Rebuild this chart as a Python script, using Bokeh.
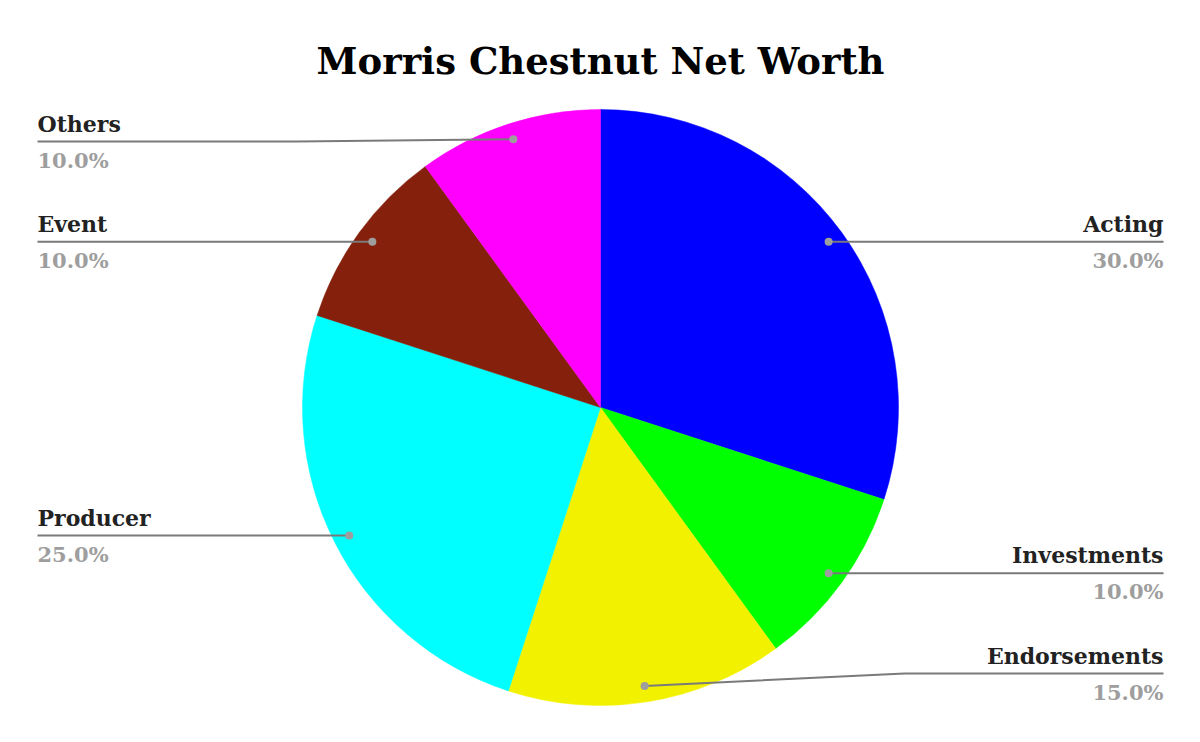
import math
from bokeh.plotting import figure
from bokeh.models import ColumnDataSource, Range1d
from bokeh.core.properties import value
from bokeh.embed import file_html
from bokeh.resources import INLINE

# ---- data ----
title_text = "Morris Chestnut Net Worth"
categories = ["Acting", "Investments", "Endorsements", "Producer", "Event", "Others"]
shares = [30, 10, 15, 25, 10, 10]
colors = ["#0000ff", "#00ff00", "#f2f200", "#00ffff", "#85200c", "#ff00ff"]

# ---- layout ----
W, H = 1184, 726
FONT = "DejaVu Serif"


def px(x):
    return x


def py(y):
    return H - y


cx, cy = px(600), py(407)
R = 298
R_DOT = 282
LEFT_X, RIGHT_X = px(37), px(1163)
KINK = 304
TOP_LIMIT, BOTTOM_LIMIT = py(141), py(673)

total = float(sum(shares))
starts, ends = [], []
dot_x, dot_y = [], []
line_xs, line_ys = [], []
lab_x, lab_y, lab_align, lab_text = [], [], [], []
pct_x, pct_y, pct_text = [], [], []

cum = 0.0
for cat, v in zip(categories, shares):
    f0 = cum / total
    cum += v
    f1 = cum / total
    starts.append(math.pi / 2 - 2 * math.pi * f0)
    ends.append(math.pi / 2 - 2 * math.pi * f1)
    mid = 2 * math.pi * (f0 + f1) / 2  # clockwise from top
    dx = math.sin(mid) * R_DOT
    dy = math.cos(mid) * R_DOT
    dxp, dyp = cx + dx, cy + dy
    dot_x.append(dxp)
    dot_y.append(dyp)
    right = math.sin(mid) >= 0
    ly = min(max(dyp, BOTTOM_LIMIT), TOP_LIMIT)
    if right:
        kx, ex, align = cx + KINK, RIGHT_X, "right"
    else:
        kx, ex, align = cx - KINK, LEFT_X, "left"
    line_xs.append([dxp, kx, ex])
    line_ys.append([dyp, ly, ly])
    lab_x.append(ex)
    lab_y.append(ly + 18)
    lab_align.append(align)
    lab_text.append(cat)
    pct_x.append(ex)
    pct_y.append(ly - 6)
    pct_text.append(f"{100 * v / total:.1f}%")

p = figure(width=W, height=H, output_backend="svg", toolbar_location=None,
           x_range=Range1d(0, W), y_range=Range1d(0, H),
           x_axis_location=None, y_axis_location=None, min_border=0)
p.grid.visible = False
p.outline_line_color = None
p.background_fill_color = "white"
p.border_fill_color = "white"

wsrc = ColumnDataSource(dict(start=starts, end=ends, color=colors))
p.wedge(x=cx, y=cy, radius=R, radius_units="screen", start_angle="start",
        end_angle="end", direction="clock", fill_color="color",
        line_color="color", line_width=0.5, source=wsrc)

p.multi_line(xs=line_xs, ys=line_ys, line_color="#7a7a7a", line_width=2)
p.scatter(x=dot_x, y=dot_y, size=8, fill_color="#9e9e9e", line_color=None)

for align in ("left", "right"):
    idx = [i for i, a in enumerate(lab_align) if a == align]
    ls = ColumnDataSource(dict(x=[lab_x[i] for i in idx], y=[lab_y[i] for i in idx],
                               t=[lab_text[i] for i in idx]))
    p.text(x="x", y="y", text="t", source=ls, text_font=value(FONT),
           text_font_style="bold", text_font_size="22px", text_color="#222222",
           text_align=align, text_baseline="alphabetic")
    ps = ColumnDataSource(dict(x=[pct_x[i] for i in idx], y=[pct_y[i] for i in idx],
                               t=[pct_text[i] for i in idx]))
    p.text(x="x", y="y", text="t", source=ps, text_font=value(FONT),
           text_font_style="bold", text_font_size="21px", text_color="#9e9e9e",
           text_align=align, text_baseline="top")

p.text(x=[px(600)], y=[py(60)], text=[title_text], text_font=value(FONT),
       text_font_style="bold", text_font_size="37px", text_color="#000000",
       text_align="center", text_baseline="alphabetic")

open("out.html", "w").write(file_html(p, INLINE))
